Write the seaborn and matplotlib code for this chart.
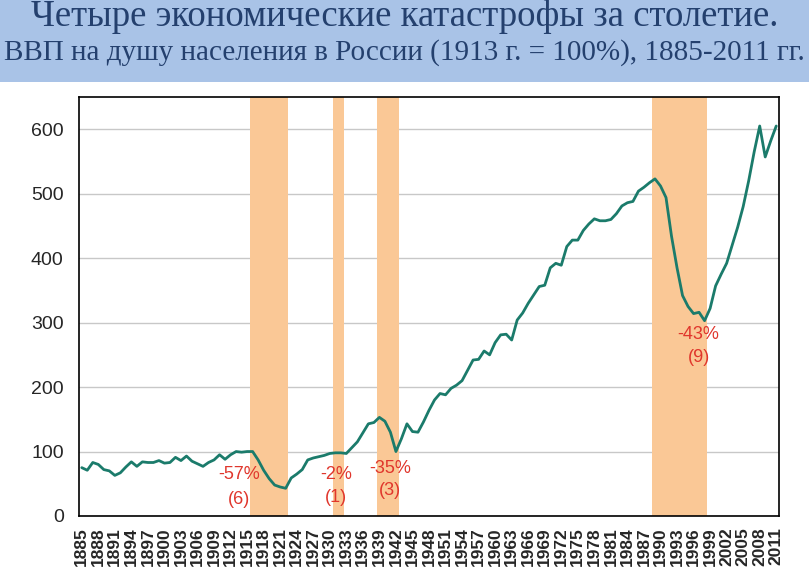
import numpy as np
import pandas as pd
import matplotlib
matplotlib.use("Agg")
import matplotlib.pyplot as plt
import seaborn as sns
from matplotlib.patches import Rectangle
from matplotlib.ticker import FixedLocator

# ---- data ----
years = list(range(1885, 2012))
gdp = [75, 71, 83, 80, 72, 70, 63, 67, 76, 84,          # 1885-1894
       77, 84, 83, 83, 86, 82, 83, 91, 86, 93,          # 1895-1904
       85, 81, 77, 83, 87, 95, 88, 95, 100, 99,         # 1905-1914
       100, 100, 87, 71, 58, 48, 45, 43, 59, 65,        # 1915-1924
       72, 87, 90, 92, 94, 97, 98, 98, 97, 106,         # 1925-1934
       115, 129, 143, 145, 153, 147, 130, 100, 120, 143, # 1935-1944
       131, 130, 146, 164, 180, 190, 188, 198, 203, 210, # 1945-1954
       226, 242, 243, 256, 250, 269, 281, 282, 273, 304, # 1955-1964
       315, 330, 343, 356, 358, 385, 392, 389, 418, 428, # 1965-1974
       428, 443, 453, 461, 458, 458, 460, 469, 481, 486, # 1975-1984
       488, 504, 510, 517, 523, 512, 494, 434, 385, 342, # 1985-1994
       325, 314, 316, 303, 322, 357, 375, 392, 420, 448, # 1995-2004
       480, 520, 565, 605, 557, 582, 605]               # 2005-2011

# crisis periods (first and last year shaded)
crisis_first = [1916, 1931, 1939, 1989]
crisis_last = [1922, 1932, 1942, 1998]

# labels: drop and duration in years
drop_labels = ["-57%", "-2%", "-35%", "-43%"]
dur_labels = ["(6)", "(1)", "(3)", "(9)"]
label_x = [1913.5, 1931.1, 1941.0, 1996.9]
label_y1 = [65, 65, 74, 282]
label_y2 = [26, 28, 39, 246]

df = pd.DataFrame({"year": years, "gdp": gdp})

sns.set_style("white")
plt.rcParams['font.family'] = ['Liberation Sans', 'DejaVu Sans']

fig = plt.figure(figsize=(8.09, 5.68), dpi=100)
fig.patches.append(Rectangle((0, 1 - 82 / 568), 1, 82 / 568, transform=fig.transFigure,
                             facecolor="#a9c3e7", edgecolor="none", zorder=0))

ax = fig.add_axes([79 / 809, 1 - 516 / 568, 700 / 809, 419 / 568])

for a, b in zip(crisis_first, crisis_last):
    ax.axvspan(a - 0.5, b + 0.5, color="#fac896", lw=0, zorder=1)

sns.lineplot(data=df, x="year", y="gdp", ax=ax, color="#1b7b6b", lw=2.0, zorder=3)

for x, t1, y1, t2, y2 in zip(label_x, drop_labels, label_y1, dur_labels, label_y2):
    ax.text(x, y1, t1, color="#e0362c", fontsize=13, ha="center", va="center", zorder=4)
    ax.text(x, y2, t2, color="#e0362c", fontsize=13, ha="center", va="center", zorder=4)

ax.set_xlim(1884.5, 2011.5)
ax.set_ylim(0, 650)
ax.set_yticks(range(0, 601, 100))
ax.yaxis.grid(True, color="#c8c8c8", lw=1)
ax.set_axisbelow(True)

ax.set_xticks(years[::3])
ax.set_xticklabels([str(y) for y in years[::3]], rotation=90, fontweight="bold", fontsize=12.5)
ax.xaxis.set_minor_locator(FixedLocator(np.arange(1884.5, 2012, 1)))
ax.tick_params(axis="x", which="major", length=0, pad=8)
ax.tick_params(axis="x", which="minor", length=4, width=0.8, color="black", direction="out")
ax.tick_params(axis="y", length=5, width=1, color="black", direction="out", labelsize=14, pad=6)

for s in ax.spines.values():
    s.set_color("black")
    s.set_linewidth(1.2)

ax.set_xlabel("")
ax.set_ylabel("")

fig.text(0.5, 1 - 17 / 568, "Четыре экономические катастрофы за столетие.",
         ha="center", va="center", fontsize=26.5, color="#24406e", family=["Liberation Serif", "DejaVu Serif"])
fig.text(0.5, 1 - 53 / 568, "ВВП на душу населения в России (1913 г. = 100%), 1885-2011 гг.",
         ha="center", va="center", fontsize=21, color="#24406e", family=["Liberation Serif", "DejaVu Serif"])

fig.savefig("out.png", dpi=100)
